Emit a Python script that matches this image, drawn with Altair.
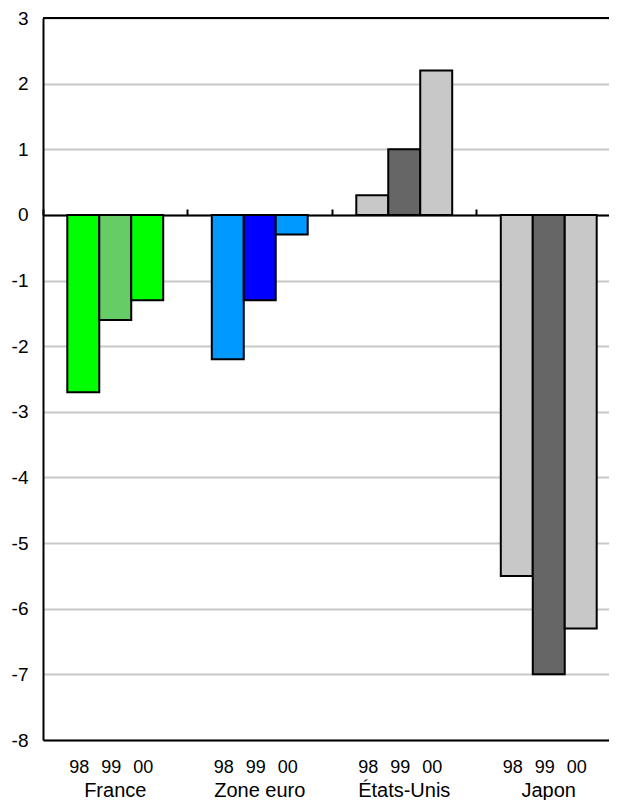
import altair as alt
import pandas as pd

groups = ["France", "Zone euro", "États-Unis", "Japon"]
years = ["98", "99", "00"]
france = [-2.7, -1.6, -1.3]
zone_euro = [-2.2, -1.3, -0.3]
etats_unis = [0.3, 1.0, 2.2]
japon = [-5.5, -7.0, -6.3]
colors_france = ["#00FF00", "#66CC66", "#00FF00"]
colors_euro = ["#0099FF", "#0000FF", "#0099FF"]
colors_us = ["#C8C8C8", "#666666", "#C8C8C8"]
colors_jp = ["#C8C8C8", "#666666", "#C8C8C8"]
y_ticks = [-8, -7, -6, -5, -4, -3, -2, -1, 0, 1, 2, 3]

rows = []
for g, vals, cols in zip(groups, [france, zone_euro, etats_unis, japon],
                         [colors_france, colors_euro, colors_us, colors_jp]):
    for yr, v, c in zip(years, vals, cols):
        rows.append({"group": g, "year": yr, "value": v, "color": c})
df = pd.DataFrame(rows)

FONT = "Liberation Sans"
xscale = alt.Scale(range=[0, 578], paddingInner=0, paddingOuter=0)
offscale = alt.Scale(paddingInner=0, paddingOuter=0.76)
yscale = alt.Scale(domain=[-8, 3], nice=False, zero=False)
yaxis = alt.Axis(values=y_ticks, grid=True, gridColor="#C8C8C8", gridWidth=2,
                 ticks=False, labelPadding=15, labelFontSize=19, labelFont=FONT,
                 labelColor="black", domainColor="black", domainWidth=2,
                 labelExpr="toString(datum.value)")

bars = alt.Chart(df).mark_bar(stroke="black", strokeWidth=2).encode(
    x=alt.X("group:N", sort=groups, scale=xscale, title=None,
            axis=alt.Axis(orient="bottom", ticks=False, labelPadding=40,
                          labelFontSize=20, labelFont=FONT, labelColor="black",
                          labelAngle=0, domainColor="black", domainWidth=2)),
    xOffset=alt.XOffset("year:N", sort=years, scale=offscale),
    y=alt.Y("value:Q", scale=yscale, title=None, axis=yaxis),
    fill=alt.Fill("color:N", scale=None),
)

year_labels = alt.Chart(df).mark_text(fontSize=18, font=FONT, color="black",
                                      baseline="middle", dx=-4).encode(
    x=alt.X("group:N", sort=groups, scale=xscale, title=None,
            axis=alt.Axis(orient="top", offset=-197, labels=False, grid=False,
                          ticks=True, tickSize=6, tickColor="black", tickWidth=2,
                          bandPosition=0, domainColor="black", domainWidth=2)),
    xOffset=alt.XOffset("year:N", sort=years, scale=offscale),
    y=alt.value(750),
    text="year:N",
)

top_line = alt.Chart(pd.DataFrame({"v": [3]})).mark_rule(color="black", strokeWidth=2).encode(
    y=alt.Y("v:Q", scale=yscale, title=None, axis=yaxis),
)

chart = alt.layer(bars, year_labels, top_line).properties(
    width=566, height=722,
    autosize=alt.AutoSizeParams(type="none"),
    padding={"left": 35, "top": 10, "right": 0, "bottom": 60},
).configure_view(stroke=None)

chart.save("out.html", embed_options={"renderer": "svg", "actions": False})
